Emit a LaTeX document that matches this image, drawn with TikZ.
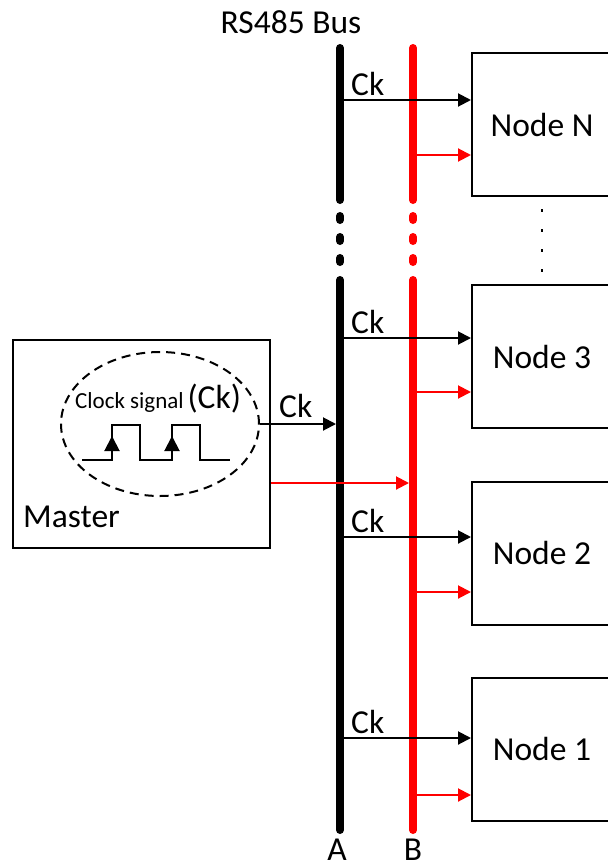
\documentclass[tikz,border=0pt]{standalone}
\usepackage{fontspec}
\setmainfont{Carlito}
\usetikzlibrary{arrows.meta,shapes.geometric}
\definecolor{busred}{RGB}{255,0,0}
\newcommand{\bigtxt}{\fontsize{33.5}{38}\selectfont}
\newcommand{\smalltxt}{\fontsize{23}{27}\selectfont}
\tikzset{
  bus/.style={line width=8pt,line cap=round},
  nodebox/.style={draw,line width=2pt,minimum width=140pt,minimum height=143pt,font=\bigtxt,inner sep=0pt},
  ck/.style={line width=2pt,-{Triangle[length=13pt,width=13pt]}},
  ckred/.style={ck,draw=busred,fill=busred},
  lbl/.style={font=\bigtxt,inner sep=0pt},
}

\begin{document}
\begin{tikzpicture}[x=1pt,y=-1pt]
  \clip (0,0) rectangle (608,868);
  % bus lines A and B
  \coordinate (Atop) at (340,48);  \coordinate (Abrk) at (340,200);
  \coordinate (Aup) at (340,280);  \coordinate (Abot) at (340,830);
  \coordinate (Btop) at (413,48);  \coordinate (Bbrk) at (413,200);
  \coordinate (Bup) at (413,280);  \coordinate (Bbot) at (413,830);
  \draw[bus] (Atop) -- (Abrk) (Aup) -- (Abot);
  \draw[bus,busred] (Btop) -- (Bbrk) (Bup) -- (Bbot);
  \foreach \y in {218,239,260}{
    \draw[bus] (340,\y-2) -- (340,\y+2);
    \draw[bus,busred] (413,\y-2) -- (413,\y+2);
  }
  \node[lbl] (bus) at (291,22) {RS485 Bus};
  \node[lbl,anchor=base] (la) at (337,860) {A};
  \node[lbl,anchor=base] (lb) at (413,860) {B};

  % slave nodes
  \node[nodebox] (nN) at (542,124.5) {Node N};
  \node[nodebox] (n3) at (542,356.5) {Node 3};
  \node[nodebox] (n2) at (542,553) {Node 2};
  \node[nodebox] (n1) at (542,749) {Node 1};
  \draw[line width=2pt,dash pattern=on 3pt off 17pt] (542,209) -- (542,276);
  \foreach \n/\yc/\yr in {nN/100/155,n3/338/392,n2/537/592,n1/738/795}{
    \draw[ckred] (Bbot |- 0,\yr) -- (\n.west |- 0,\yr);
    \draw[ck] (Abot |- 0,\yc) -- (\n.west |- 0,\yc);
    \node[lbl,anchor=base west] (ck\n) at (351,\yc-5) {Ck};
  }

  % master with clock signal
  \node[draw,line width=2pt,minimum width=257pt,minimum height=208pt] (master) at (141.5,444) {};
  \node[lbl,anchor=base west] (mlbl) at (23,527) {Master};
  \node[draw,dashed,dash pattern=on 9pt off 6pt,line width=2pt,ellipse,minimum width=198pt,minimum height=144pt] (clk) at (160,424) {};
  \node[inner sep=0pt,anchor=base west] (clktxt) at (75,408) {\smalltxt Clock signal\,\bigtxt(Ck)};
  \draw[line width=2pt] (82,460) -- (112,460) -- (112,425) -- (140,425) -- (140,460)
        -- (172,460) -- (172,425) -- (200,425) -- (200,460) -- (230,460);
  \foreach \x in {112,172}
    \draw[line width=2pt,-{Triangle[length=15pt,width=15pt]}] (\x,454) -- (\x,436);
  \draw[ck,shorten >=4pt] (clk.east) -- (clk.east -| Abot);
  \node[lbl,anchor=base west] (ckm) at (279,417) {Ck};
  \draw[ckred,shorten >=4pt] (master.east |- 0,483) -- (Bbot |- 0,483);
\end{tikzpicture}
\end{document}
